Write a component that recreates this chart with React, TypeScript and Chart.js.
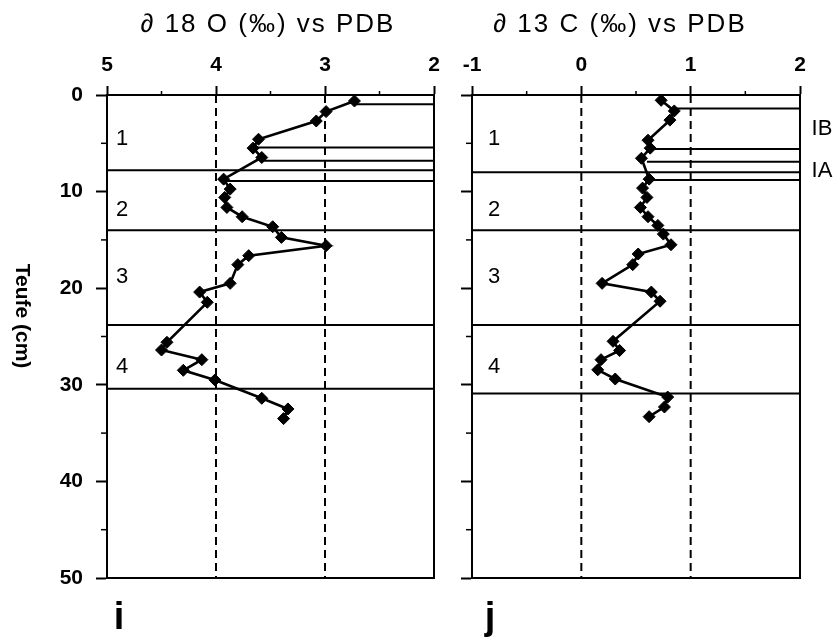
import React, { useEffect, useRef } from "react";
import { Chart, registerables } from "chart.js";
Chart.register(...registerables);

// ---- data (depth in cm, isotope values in ‰ vs PDB) ----
const o18Depths = [0.62, 1.72, 2.69, 4.58, 5.5, 6.47, 8.71, 9.74, 10.6, 11.64, 12.6, 13.64, 14.74, 15.6, 16.63, 17.56, 19.5, 20.4, 21.46, 25.6, 26.4, 27.4, 28.5, 29.5, 31.4, 32.5, 33.5];
const o18Values = [2.73, 2.99, 3.08, 3.61, 3.66, 3.58, 3.93, 3.87, 3.92, 3.9, 3.76, 3.48, 3.4, 2.99, 3.7, 3.8, 3.87, 4.15, 4.08, 4.45, 4.5, 4.13, 4.3, 4.01, 3.58, 3.34, 3.38];
const c13Depths = [0.55, 1.65, 2.6, 4.68, 5.5, 6.55, 8.71, 9.64, 10.6, 11.64, 12.6, 13.5, 14.4, 15.5, 16.46, 17.56, 19.5, 20.4, 21.35, 25.5, 26.45, 27.4, 28.45, 29.4, 31.27, 32.3, 33.3];
const c13Values = [0.73, 0.85, 0.81, 0.61, 0.63, 0.55, 0.62, 0.56, 0.6, 0.54, 0.61, 0.7, 0.75, 0.82, 0.52, 0.47, 0.19, 0.64, 0.72, 0.29, 0.35, 0.18, 0.15, 0.31, 0.79, 0.76, 0.62];

const o18DashedAt = [4, 3];
const c13DashedAt = [0, 1];
const o18ZoneBoundaries = [7.78, 14.0, 23.8, 30.4];
const c13ZoneBoundaries = [8.0, 14.0, 23.8, 30.9];
const o18SubDepths = [0.96, 5.44, 6.8, 8.9];
const o18SubStarts = [2.73, 3.66, 3.58, 3.94];
const c13SubDepths = [1.4, 5.6, 6.9, 8.8];
const c13SubStarts = [0.85, 0.64, 0.6, 0.63];

const zoneLabels = ["1", "2", "3", "4"];
const zoneLabelDepths = [4.6, 11.9, 18.8, 28.2];
const subZoneLabels = ["IB", "IA"];
const subZoneLabelDepths = [3.5, 7.85];

const depthMin = 0;
const depthMax = 50;
const depthMajorStep = 10;
const depthMinorStep = 5;

const FONT = '"Liberation Sans", Arial, Helvetica, sans-serif';

type Panel = {
  title: string;
  titleX: number;
  letter: string;
  xMin: number;
  xMax: number;
  reverse: boolean;
  depths: number[];
  values: number[];
  dashed: number[];
  zones: number[];
  subDepths: number[];
  subStarts: number[];
  edgeValue: number;
  yWidth: number;
  showDepthLabels: boolean;
  rightPad: number;
  width: number;
  zoneLabelX: number;
  letterX: number;
  extras: boolean;
};

function buildConfig(p: Panel): any {
  const lineStyle = { borderColor: "#000", borderWidth: 2, pointRadius: 0, showLine: true, fill: false };
  const datasets: any[] = [];
  p.dashed.forEach((v) =>
    datasets.push({ ...lineStyle, borderDash: [8, 5], data: [{ x: v, y: depthMin }, { x: v, y: depthMax }] })
  );
  p.zones.forEach((d) =>
    datasets.push({ ...lineStyle, data: [{ x: p.xMin, y: d }, { x: p.xMax, y: d }] })
  );
  p.subDepths.forEach((d, i) =>
    datasets.push({ ...lineStyle, data: [{ x: p.subStarts[i], y: d }, { x: p.edgeValue, y: d }] })
  );
  datasets.push({
    data: p.values.map((v, i) => ({ x: v, y: p.depths[i] })),
    borderColor: "#000",
    backgroundColor: "#000",
    borderWidth: 2.6,
    showLine: true,
    pointStyle: "rectRot",
    pointRadius: 6,
    pointBorderWidth: 1,
  });

  const tickFont = { family: FONT, size: 21, weight: "bold" as const };

  const overlay = {
    id: "overlay",
    afterDraw(chart: any) {
      const ctx = chart.ctx;
      const a = chart.chartArea;
      const xs = chart.scales.x;
      const ys = chart.scales.y;
      ctx.save();
      ctx.strokeStyle = "#000";
      ctx.fillStyle = "#000";
      ctx.lineWidth = 2;
      ctx.strokeRect(a.left, a.top, a.right - a.left, a.bottom - a.top);
      // minor ticks
      ctx.lineWidth = 1.5;
      for (let v = p.xMin + 0.5; v < p.xMax; v += 1) {
        const px = xs.getPixelForValue(v);
        ctx.beginPath();
        ctx.moveTo(px, a.top);
        ctx.lineTo(px, a.top - 4);
        ctx.stroke();
      }
      for (let d = depthMin + depthMinorStep; d < depthMax; d += depthMajorStep) {
        const py = ys.getPixelForValue(d);
        ctx.beginPath();
        ctx.moveTo(a.left, py);
        ctx.lineTo(a.left - 6, py);
        ctx.stroke();
      }
      // title
      ctx.textAlign = "center";
      ctx.textBaseline = "middle";
      ctx.font = `26px ${FONT}`;
      (ctx as any).letterSpacing = "2px";
      ctx.fillText(p.title, p.titleX, 25);
      (ctx as any).letterSpacing = "0px";
      // zone labels
      ctx.font = `22px ${FONT}`;
      zoneLabels.forEach((t, i) => {
        ctx.fillText(t, a.left + p.zoneLabelX, ys.getPixelForValue(zoneLabelDepths[i]));
      });
      // panel letter
      ctx.font = `bold 38px ${FONT}`;
      ctx.fillText(p.letter, p.letterX, 619);
      if (p.extras) {
        ctx.font = `22px ${FONT}`;
        subZoneLabels.forEach((t, i) => {
          ctx.fillText(t, a.right + 22, ys.getPixelForValue(subZoneLabelDepths[i]));
        });
      } else {
        ctx.save();
        ctx.translate(22, 316);
        ctx.rotate(Math.PI / 2);
        ctx.font = `bold 21px ${FONT}`;
        ctx.fillText("Teufe (cm)", 0, 0);
        ctx.restore();
      }
      ctx.restore();
    },
  };

  return {
    type: "scatter",
    data: { datasets },
    options: {
      responsive: false,
      animation: false,
      events: [],
      layout: { padding: { left: 0, top: 0, right: p.rightPad, bottom: 63 } },
      plugins: { legend: { display: false }, tooltip: { enabled: false }, title: { display: false } },
      scales: {
        x: {
          type: "linear",
          position: "top",
          min: p.xMin,
          max: p.xMax,
          reverse: p.reverse,
          ticks: { stepSize: 1, font: tickFont, color: "#000", padding: 8, maxRotation: 0, autoSkip: false },
          grid: { drawOnChartArea: false, drawTicks: true, tickLength: 9, tickColor: "#000", tickWidth: 2, color: "#000" },
          border: { display: true, color: "#000", width: 2 },
          afterFit: (s: any) => {
            s.height = 95;
          },
        },
        y: {
          type: "linear",
          position: "left",
          min: depthMin,
          max: depthMax,
          reverse: true,
          ticks: {
            stepSize: depthMajorStep,
            font: tickFont,
            color: "#000",
            padding: 13,
            callback: (v: any) => (p.showDepthLabels ? String(v) : ""),
          },
          grid: { drawOnChartArea: false, drawTicks: true, tickLength: 11, tickColor: "#000", tickWidth: 2, color: "#000" },
          border: { display: true, color: "#000", width: 2 },
          afterFit: (s: any) => {
            s.width = p.yWidth;
          },
        },
      },
    },
    plugins: [overlay],
  };
}

const leftPanel: Panel = {
  title: "∂ 18 O (‰) vs PDB",
  titleX: 268,
  letter: "i",
  xMin: 2,
  xMax: 5,
  reverse: true,
  depths: o18Depths,
  values: o18Values,
  dashed: o18DashedAt,
  zones: o18ZoneBoundaries,
  subDepths: o18SubDepths,
  subStarts: o18SubStarts,
  edgeValue: 2,
  yWidth: 107,
  showDepthLabels: true,
  rightPad: 16,
  width: 450,
  zoneLabelX: 15,
  letterX: 119,
  extras: false,
};

const rightPanel: Panel = {
  title: "∂ 13 C (‰) vs PDB",
  titleX: 170,
  letter: "j",
  xMin: -1,
  xMax: 2,
  reverse: false,
  depths: c13Depths,
  values: c13Values,
  dashed: c13DashedAt,
  zones: c13ZoneBoundaries,
  subDepths: c13SubDepths,
  subStarts: c13SubStarts,
  edgeValue: 2,
  yWidth: 22,
  showDepthLabels: false,
  rightPad: 36,
  width: 386,
  zoneLabelX: 22,
  letterX: 40,
  extras: true,
};

function PanelChart({ panel, left }: { panel: Panel; left: number }) {
  const ref = useRef<HTMLCanvasElement | null>(null);
  useEffect(() => {
    if (!ref.current) return;
    const chart = new Chart(ref.current, buildConfig(panel));
    return () => chart.destroy();
  }, [panel]);
  return (
    <canvas
      ref={ref}
      width={panel.width}
      height={641}
      style={{ position: "absolute", left, top: 0, width: panel.width, height: 641 }}
    />
  );
}

export default function App() {
  return (
    <div style={{ position: "absolute", left: 0, top: 0, width: 836, height: 641, background: "#fff", overflow: "hidden" }}>
      <PanelChart panel={leftPanel} left={0} />
      <PanelChart panel={rightPanel} left={450} />
    </div>
  );
}
